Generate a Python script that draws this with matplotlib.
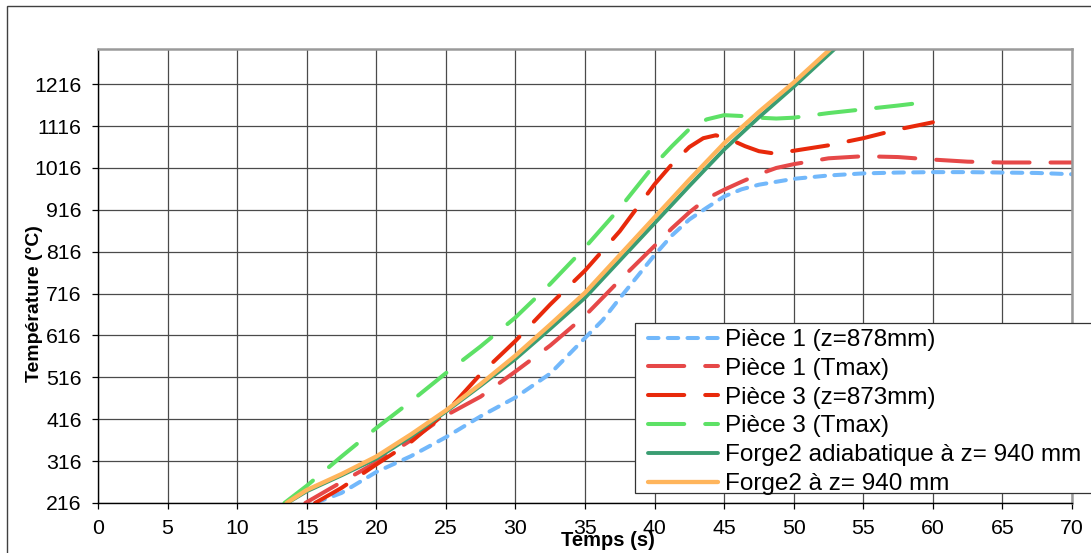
import matplotlib
matplotlib.use("Agg")
import matplotlib.pyplot as plt
from matplotlib.patches import Rectangle

plt.rcParams['font.family'] = ['Liberation Sans', 'DejaVu Sans']

# ---------------- data ----------------
t_p1z = [15.6, 17.5, 20, 22.5, 25, 27.5, 30, 32.5, 35, 36.25, 37.5, 40, 41.25, 42.5,
         43.75, 45, 46.25, 47.5, 50, 52.5, 55, 57.5, 60, 62.5, 65, 67.5, 70]
T_p1z = [216, 240, 290, 328, 373, 423, 468, 525, 610, 652, 705, 808, 855, 893,
         921, 948, 965, 976, 990, 998, 1003, 1005, 1006, 1006, 1005, 1004, 1001]

t_p1max = [14.9, 17.5, 20, 22.5, 25, 27.5, 30, 32.5, 35, 37.5, 40, 41.25, 42.5, 43.75,
           45, 46.25, 47.5, 48.75, 50, 52.5, 55, 57.5, 60, 62.5, 65, 67.5, 70]
T_p1max = [216, 266, 313, 366, 425, 470, 530, 592, 663, 748, 830, 872, 910, 943,
           964, 983, 1001, 1016, 1025, 1039, 1044, 1042, 1036, 1031, 1029, 1029, 1029]

t_p3z = [15.6, 17.5, 20, 22.5, 25, 27.5, 30, 32.5, 35, 37.5, 40, 41.25, 42.5, 43.5,
         44.4, 45.5, 46.5, 47.5, 48.5, 50, 52.5, 55, 57.5, 60]
T_p3z = [216, 252, 308, 362, 432, 524, 603, 690, 771, 865, 977, 1025, 1066, 1087,
         1094, 1083, 1068, 1056, 1051, 1057, 1070, 1087, 1108, 1125]

t_p3max = [13.4, 15, 17.5, 20, 22.5, 25, 27.5, 30, 32.5, 35, 37.5, 40, 41.25, 42.5,
           43.75, 45, 46.25, 47.5, 48.75, 50, 52.5, 55, 57.5, 60]
T_p3max = [216, 257, 327, 395, 459, 526, 590, 659, 739, 826, 920, 1024, 1068, 1109,
           1132, 1142, 1140, 1136, 1134, 1136, 1147, 1156, 1165, 1175]

t_adiab = [13.6, 15, 17.5, 20, 22.5, 25, 27.5, 30, 32.5, 35, 37.5, 40, 42.5, 45, 47.5, 50, 53.0]
T_adiab = [216, 244, 282, 322, 375, 434, 496, 560, 632, 706, 795, 884, 973, 1060, 1137, 1210, 1302]

t_forge = [13.55, 15, 17.5, 20, 22.5, 25, 27.5, 30, 32.5, 35, 37.5, 40, 42.5, 45, 47.5, 50, 52.7]
T_forge = [216, 247, 285, 327, 380, 437, 500, 568, 642, 718, 808, 898, 988, 1075, 1150, 1220, 1302]

labels = ["Pièce 1 (z=878mm)", "Pièce 1 (Tmax)", "Pièce 3 (z=873mm)", "Pièce 3 (Tmax)",
          "Forge2 adiabatique à z= 940 mm", "Forge2 à z= 940 mm"]
x_ticks = list(range(0, 71, 5))
y_ticks = list(range(216, 1217, 100))

# ---------------- figure ----------------
W, H = 1091, 553
fig = plt.figure(figsize=(W / 100, H / 100), dpi=100)
ax = fig.add_axes([98 / W, 1 - 503 / H, (1072 - 98) / W, (503 - 49) / H])

lw = 2.9
long_dash = (9.0, 5.2)
short_dash = (2.6, 2.3)

ax.plot(t_p1z, T_p1z, color='#72b8fb', lw=lw, dashes=short_dash,
        dash_capstyle='round', label=labels[0])
ax.plot(t_p1max, T_p1max, color='#e64848', lw=lw, dashes=long_dash,
        dash_capstyle='round', label=labels[1])
ax.plot(t_p3z, T_p3z, color='#e8290b', lw=lw, dashes=long_dash,
        dash_capstyle='round', label=labels[2])
ax.plot(t_p3max, T_p3max, color='#5de166', lw=lw, dashes=long_dash,
        dash_capstyle='round', label=labels[3])
ax.plot(t_adiab, T_adiab, color='#3a9d72', lw=2.8, solid_capstyle='round', label=labels[4])
ax.plot(t_forge, T_forge, color='#ffb55c', lw=3.1, solid_capstyle='round', label=labels[5])

ax.set_xlim(0, 70)
ax.set_ylim(216, 1300)
ax.set_xticks(x_ticks)
ax.set_yticks(y_ticks)
ax.grid(True, color='#4a4a4a', lw=0.9)
ax.set_axisbelow(True)

for s in ['left', 'bottom']:
    ax.spines[s].set_color('black')
    ax.spines[s].set_linewidth(1.0)
for s in ['top', 'right']:
    ax.spines[s].set_color('#9a9a9a')
    ax.spines[s].set_linewidth(1.8)

ax.tick_params(axis='both', direction='out', length=4.3, width=0.9, colors='black',
               labelsize=15.3)
ax.tick_params(axis='y', pad=7.5)
ax.tick_params(axis='x', pad=7)

fig.text(35 / W, 1 - 304 / H, 'Température (°C)', rotation=90, ha='center', va='center',
         fontsize=14, fontweight='bold')
fig.text(608 / W, 1 - 541 / H, 'Temps (s)', ha='center', va='center',
         fontsize=14.5, fontweight='bold')

# legend box
box = Rectangle((635 / W, 1 - 493 / H), (1100 - 635) / W, (493 - 323) / H,
                transform=fig.transFigure, facecolor='white', edgecolor='#333333',
                lw=0.9, zorder=4.9, clip_on=False)
ax.add_artist(box)
leg = ax.legend(loc='upper left', bbox_to_anchor=(648 / W, 1 - 329 / H),
                bbox_transform=fig.transFigure, frameon=False, borderpad=0,
                borderaxespad=0, fontsize=17.5, handlelength=2.88, handletextpad=0.3,
                labelspacing=0.28)

# outer chart border
fig.add_artist(Rectangle((7 / W, -0.05), 1.2, (1 - 6 / H) + 0.05, transform=fig.transFigure,
                         fill=False, edgecolor='#404040', lw=1.0))

fig.savefig('out.png', dpi=100)
